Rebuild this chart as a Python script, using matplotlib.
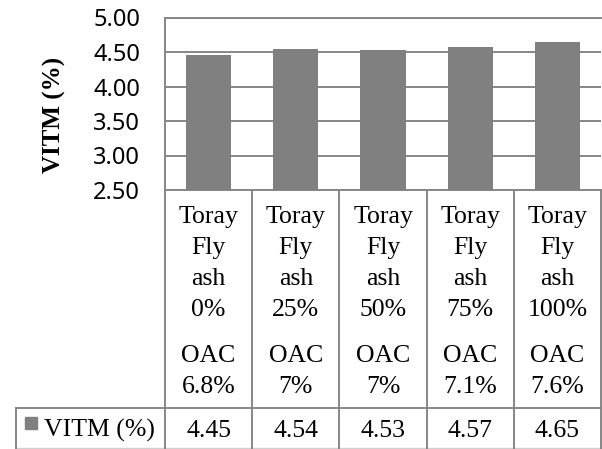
import matplotlib
matplotlib.use("Agg")
import matplotlib.pyplot as plt
import numpy as np

# data
fly_ash = ["0%", "25%", "50%", "75%", "100%"]
oac = ["6.8%", "7%", "7%", "7.1%", "7.6%"]
vitm = [4.45, 4.54, 4.53, 4.57, 4.65]
yticks = [2.5, 3.0, 3.5, 4.0, 4.5, 5.0]

W, H = 602, 449
grey = "#868686"
bar_col = "#808080"
serif = ["Liberation Serif", "DejaVu Serif"]
fs = 18.5

fig = plt.figure(figsize=(W / 100, H / 100), dpi=100)

# plot area in pixels
left, right, top, bottom = 165, 601, 17.5, 190
ax = fig.add_axes([left / W, 1 - bottom / H, (right - left) / W, (bottom - top) / H])
x = np.arange(len(vitm))
ax.bar(x, vitm, width=0.52, color=bar_col, zorder=3)
ax.set_xlim(-0.5, len(vitm) - 0.5)
ax.set_ylim(yticks[0], yticks[-1])
ax.set_yticks(yticks)
ax.set_yticklabels(["%.2f" % v for v in yticks], fontsize=17, family="Noto Sans")
ax.tick_params(axis="y", length=0, pad=18)
ax.set_xticks([])
ax.grid(axis="y", color=grey, linewidth=1.4, zorder=0)
for s in ax.spines.values():
    s.set_visible(False)
for side in ("left", "top"):
    ax.spines[side].set_visible(True)
    ax.spines[side].set_color(grey)
    ax.spines[side].set_linewidth(1.4)

fig.text(54 / W, 1 - 115 / H, "VITM (%)", rotation=90, ha="center", va="center",
         fontsize=18, fontweight="bold", family=serif)

# data table underneath, in pixel coordinates
ov = fig.add_axes([0, 0, 1, 1], zorder=-1)
ov.set_xlim(0, W)
ov.set_ylim(H, 0)
ov.axis("off")

cw = (right - left) / len(vitm)
row_y = 407.5
lw = 1.4
ov.plot([left, right], [bottom, bottom], color=grey, lw=lw)
ov.plot([16, right], [row_y, row_y], color=grey, lw=lw)
ov.plot([16, right], [447.5, 447.5], color="#d0d0d0", lw=1)
ov.plot([left, left], [top, H], color=grey, lw=lw)
ov.plot([16, 16], [row_y, H], color=grey, lw=lw)
for i in range(1, len(vitm) + 1):
    xs = left + i * cw
    ov.plot([xs, xs], [bottom, H], color=grey, lw=lw)

baselines = [223, 254, 285, 316, 362, 393]
for i in range(len(vitm)):
    cx = left + (i + 0.5) * cw
    lines = ["Toray", "Fly", "ash", fly_ash[i], "OAC", oac[i]]
    for t, yy in zip(lines, baselines):
        ov.text(cx, yy, t, ha="center", va="baseline", fontsize=fs, family=serif)
    ov.text(cx, 437, "%.2f" % vitm[i], ha="center", va="baseline", fontsize=fs, family=serif)

# legend key in the table
ov.add_patch(plt.Rectangle((25, 417), 12, 12, color=bar_col))
ov.text(44, 437, "VITM (%)", ha="left", va="baseline", fontsize=fs, family=serif)

fig.savefig("out.png", dpi=100)
